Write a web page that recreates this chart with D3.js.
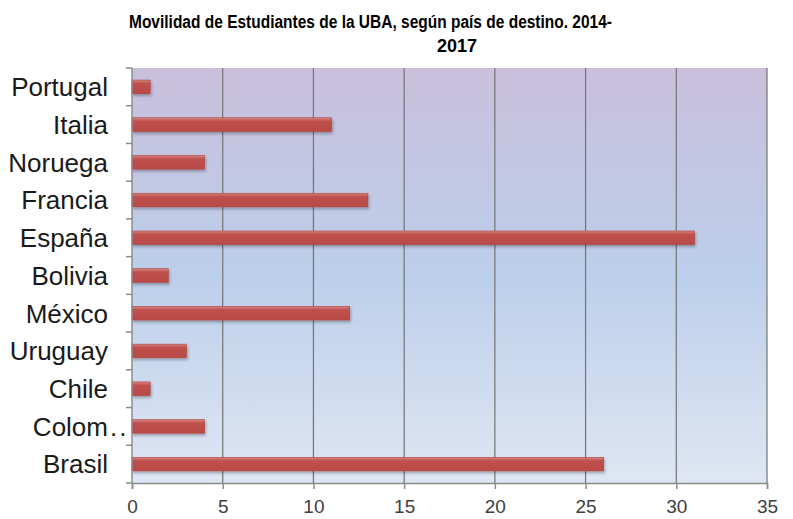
<!DOCTYPE html>
<html>
<head>
<meta charset="utf-8">
<script src="https://cdn.jsdelivr.net/npm/d3@7"></script>
<style>
  body { margin: 0; background: #fff; }
  svg { display: block; font-family: "Liberation Sans", Arial, sans-serif; }
</style>
</head>
<body>
<svg width="793" height="519"></svg>
<script>
const countries = ["Portugal", "Italia", "Noruega", "Francia", "España", "Bolivia", "México", "Uruguay", "Chile", "Colombia", "Brasil"];
const shownLabels = ["Portugal", "Italia", "Noruega", "Francia", "España", "Bolivia", "México", "Uruguay", "Chile", "Colom", "Brasil"];
const students = [1, 11, 4, 13, 31, 2, 12, 3, 1, 4, 26];
const xTicks = [0, 5, 10, 15, 20, 25, 30, 35];
const titleLine1 = "Movilidad de Estudiantes de la UBA, según país de destino. 2014-";
const titleLine2 = "2017";

let svg = d3.select("svg");
let width = +svg.attr("width");
let height = +svg.attr("height");

const margin = {top: 68, right: 26, bottom: 36, left: 132};

let x = d3.scaleLinear()
    .domain([0, 35])
    .range([margin.left, width - margin.right]);

let y = d3.scaleBand()
    .domain(countries)
    .range([margin.top, height - margin.bottom])
    .paddingInner(0.64)
    .paddingOuter(0.32);

let defs = svg.append("defs");

// plot background gradient
let bg = defs.append("linearGradient")
    .attr("id", "bg")
    .attr("x1", 0).attr("y1", 0).attr("x2", 0).attr("y2", 1);
bg.append("stop").attr("offset", "0%").attr("stop-color", "#c9bfdc");
bg.append("stop").attr("offset", "50%").attr("stop-color", "#bccfea");
bg.append("stop").attr("offset", "100%").attr("stop-color", "#dfe6f3");

let barGrad = defs.append("linearGradient")
    .attr("id", "bar")
    .attr("x1", 0).attr("y1", 0).attr("x2", 0).attr("y2", 1);
barGrad.append("stop").attr("offset", "0%").attr("stop-color", "#d58683");
barGrad.append("stop").attr("offset", "25%").attr("stop-color", "#c0504d");
barGrad.append("stop").attr("offset", "100%").attr("stop-color", "#b84a47");

let shadow = defs.append("filter")
    .attr("id", "shadow")
    .attr("x", "-10%").attr("y", "-50%").attr("width", "130%").attr("height", "220%");
shadow.append("feDropShadow")
    .attr("dx", 1).attr("dy", 2)
    .attr("stdDeviation", 1.5)
    .attr("flood-color", "#000")
    .attr("flood-opacity", 0.3);

// title
svg.append("text")
    .attr("x", 129)
    .attr("y", 28)
    .attr("font-weight", "bold")
    .attr("font-size", 18)
    .attr("textLength", 483)
    .attr("lengthAdjust", "spacingAndGlyphs")
    .attr("fill", "#000")
    .text(titleLine1);

svg.append("text")
    .attr("x", 457)
    .attr("y", 52)
    .attr("text-anchor", "middle")
    .attr("font-weight", "bold")
    .attr("font-size", 18)
    .attr("fill", "#000")
    .text(titleLine2);

// plot area
svg.append("rect")
    .attr("x", x(0))
    .attr("y", margin.top)
    .attr("width", x(35) - x(0))
    .attr("height", height - margin.bottom - margin.top)
    .attr("fill", "url(#bg)");

// vertical gridlines
svg.append("g")
    .selectAll("line")
    .data(xTicks.slice(1))
    .enter()
    .append("line")
    .attr("x1", d => x(d))
    .attr("x2", d => x(d))
    .attr("y1", margin.top)
    .attr("y2", height - margin.bottom)
    .attr("stroke", "#737373")
    .attr("stroke-width", 1.2);

// bars
svg.append("g")
    .selectAll(".bar")
    .data(countries)
    .enter()
    .append("rect")
    .attr("class", "bar")
    .attr("x", x(0))
    .attr("y", d => y(d))
    .attr("width", (d, i) => x(students[i]) - x(0))
    .attr("height", y.bandwidth())
    .attr("fill", "url(#bar)")
    .attr("stroke", "#b3413e")
    .attr("stroke-width", 0.6)
    .attr("filter", "url(#shadow)");

// x axis
let xAxis = svg.append("g")
    .attr("transform", `translate(0,${height - margin.bottom})`)
    .call(d3.axisBottom(x).tickValues(xTicks).tickSize(6).tickPadding(11));
xAxis.select(".domain").attr("stroke", "#8c8c8c").attr("stroke-width", 1.5);
xAxis.selectAll(".tick line").attr("stroke", "#8c8c8c").attr("stroke-width", 1.5);
xAxis.selectAll(".tick text")
    .attr("font-size", 19)
    .attr("fill", "#404040")
    .attr("font-family", "Liberation Sans, Arial, sans-serif");

// y axis: line plus ticks on category boundaries
let yAxis = svg.append("g");
yAxis.append("line")
    .attr("x1", x(0)).attr("x2", x(0))
    .attr("y1", margin.top).attr("y2", height - margin.bottom)
    .attr("stroke", "#8c8c8c")
    .attr("stroke-width", 1.5);

let bounds = d3.range(countries.length + 1).map(i => margin.top + i * (height - margin.bottom - margin.top) / countries.length);
yAxis.selectAll(".ytick")
    .data(bounds)
    .enter()
    .append("line")
    .attr("class", "ytick")
    .attr("x1", x(0) - 6).attr("x2", x(0))
    .attr("y1", d => d).attr("y2", d => d)
    .attr("stroke", "#8c8c8c")
    .attr("stroke-width", 1.5);

yAxis.selectAll(".ylabel")
    .data(countries)
    .enter()
    .append("text")
    .attr("class", "ylabel")
    .attr("x", x(0) - 24)
    .attr("y", d => y(d) + y.bandwidth() / 2)
    .attr("dy", "0.36em")
    .attr("text-anchor", "end")
    .attr("font-size", 26)
    .attr("fill", "#1a1a1a")
    .text((d, i) => shownLabels[i]);

// truncation dots of the long label
yAxis.append("text")
    .attr("x", x(0) - 22)
    .attr("y", y("Colombia") + y.bandwidth() / 2)
    .attr("dy", "0.36em")
    .attr("font-size", 26)
    .attr("fill", "#1a1a1a")
    .attr("letter-spacing", 2)
    .text("..");
</script>
</body>
</html>
